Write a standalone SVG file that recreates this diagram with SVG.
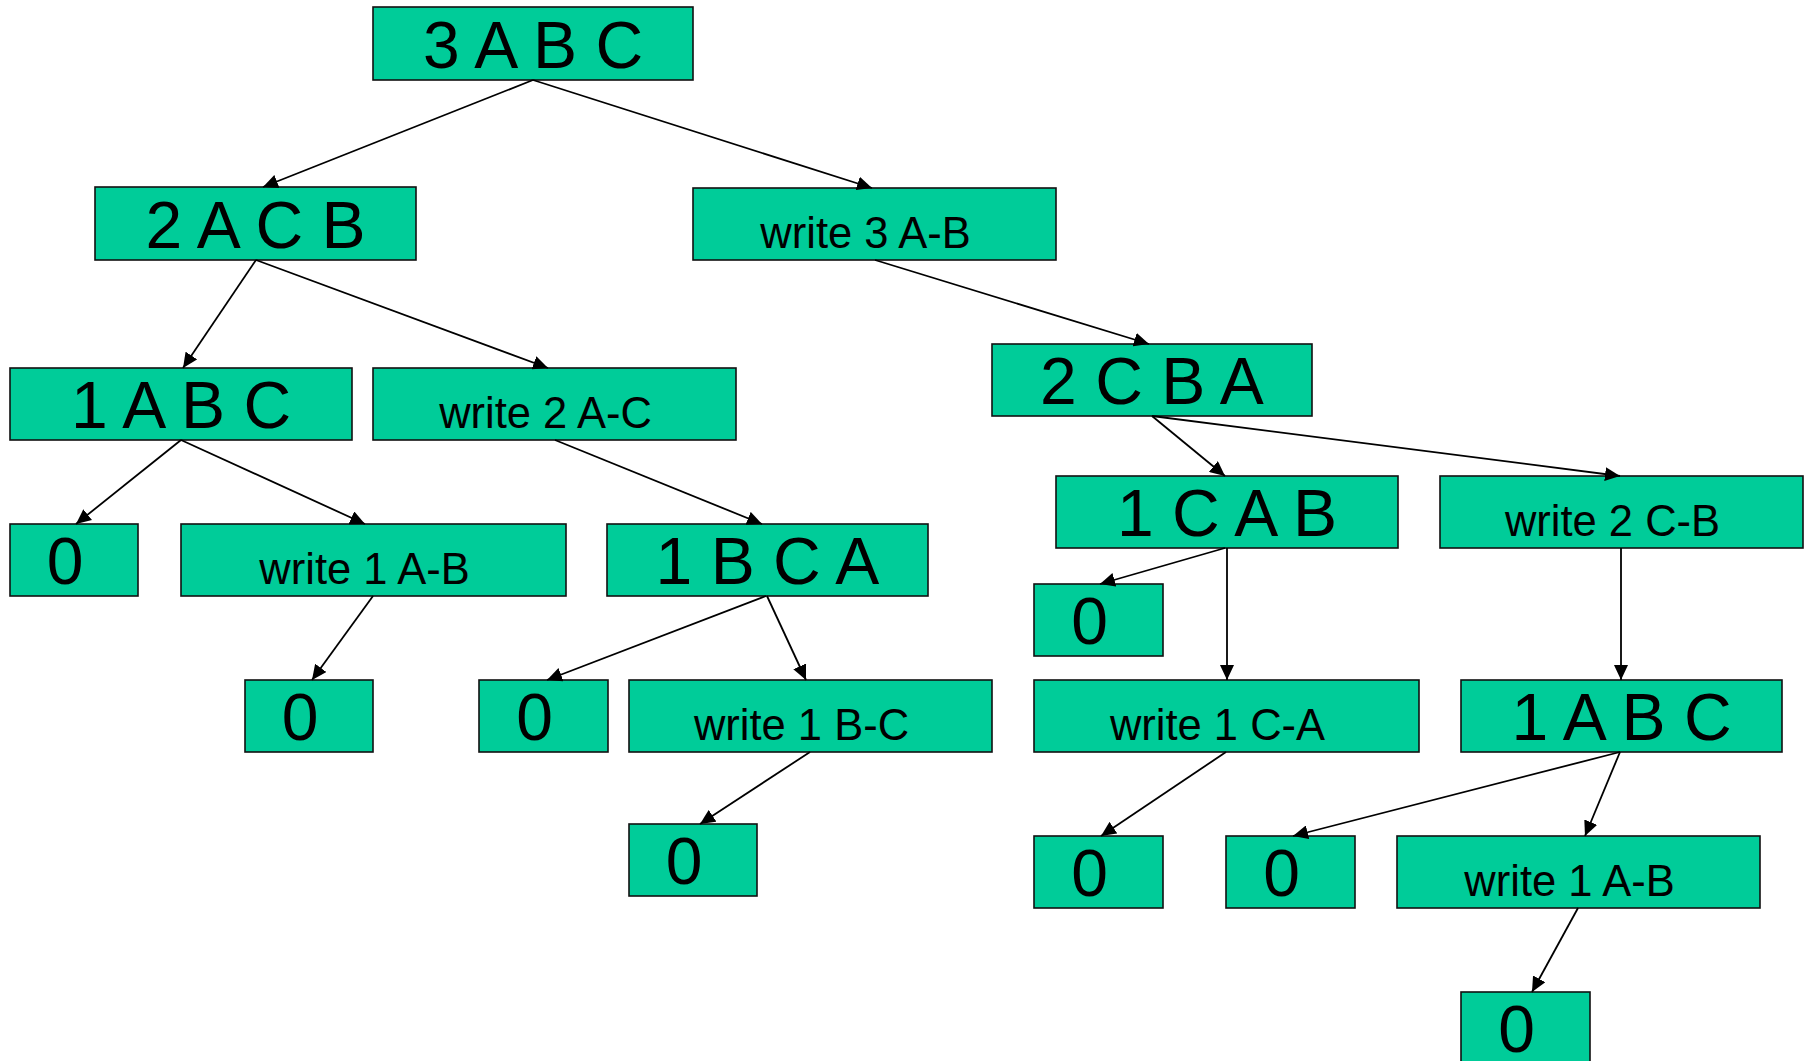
<svg xmlns="http://www.w3.org/2000/svg" width="1810" height="1061" viewBox="0 0 1810 1061">
  <style>
    .box { fill: #00CC99; stroke: #111; stroke-width: 1.6; }
    .big { font-family: "Liberation Sans", Arial, sans-serif; font-size: 66px; fill: #000; text-anchor: middle; }
    .small { font-family: "Liberation Sans", Arial, sans-serif; font-size: 43.5px; fill: #000; text-anchor: middle; }
    .edge { stroke: #000; stroke-width: 1.8; fill: none; marker-end: url(#arrow); }
  </style>
  <defs>
    <marker id="arrow" markerUnits="userSpaceOnUse" markerWidth="15" markerHeight="14" refX="15" refY="7" orient="auto">
      <path d="M0,0 L15,7 L0,14 z" fill="#000"/>
    </marker>
  </defs>
  <rect width="1810" height="1061" fill="#fff"/>

  <!-- tree nodes -->
  <g id="n_root"><rect class="box" x="373" y="7" width="320" height="73"/><text class="big" x="533" y="68">3 A B C</text></g>
  <g id="n_2acb"><rect class="box" x="95" y="187" width="321" height="73"/><text class="big" x="255.5" y="247.5">2 A C B</text></g>
  <g id="n_w3ab"><rect class="box" x="693" y="188" width="363" height="72"/><text class="small" x="865.5" y="248">write 3 A-B</text></g>
  <g id="n_1abc_l"><rect class="box" x="10" y="368" width="342" height="72"/><text class="big" x="181" y="427.5">1 A B C</text></g>
  <g id="n_w2ac"><rect class="box" x="373" y="368" width="363" height="72"/><text class="small" x="545.5" y="428">write 2 A-C</text></g>
  <g id="n_2cba"><rect class="box" x="992" y="344" width="320" height="72"/><text class="big" x="1152" y="403.5">2 C B A</text></g>
  <g id="n_0a"><rect class="box" x="10" y="524" width="128" height="72"/><text class="big" x="65" y="583.5">0</text></g>
  <g id="n_w1ab_l"><rect class="box" x="181" y="524" width="385" height="72"/><text class="small" x="364.5" y="584">write 1 A-B</text></g>
  <g id="n_1bca"><rect class="box" x="607" y="524" width="321" height="72"/><text class="big" x="767.5" y="583.5">1 B C A</text></g>
  <g id="n_1cab"><rect class="box" x="1056" y="476" width="342" height="72"/><text class="big" x="1227" y="535.5">1 C A B</text></g>
  <g id="n_w2cb"><rect class="box" x="1440" y="476" width="363" height="72"/><text class="small" x="1612.5" y="536">write 2 C-B</text></g>
  <g id="n_0b"><rect class="box" x="1034" y="584" width="129" height="72"/><text class="big" x="1089.5" y="643.5">0</text></g>
  <g id="n_0c"><rect class="box" x="245" y="680" width="128" height="72"/><text class="big" x="300" y="739.5">0</text></g>
  <g id="n_0d"><rect class="box" x="479" y="680" width="129" height="72"/><text class="big" x="534.5" y="739.5">0</text></g>
  <g id="n_w1bc"><rect class="box" x="629" y="680" width="363" height="72"/><text class="small" x="801.5" y="740">write 1 B-C</text></g>
  <g id="n_w1ca"><rect class="box" x="1034" y="680" width="385" height="72"/><text class="small" x="1217.5" y="740">write 1 C-A</text></g>
  <g id="n_1abc_r"><rect class="box" x="1461" y="680" width="321" height="72"/><text class="big" x="1621.5" y="739.5">1 A B C</text></g>
  <g id="n_0e"><rect class="box" x="629" y="824" width="128" height="72"/><text class="big" x="684" y="883.5">0</text></g>
  <g id="n_0f"><rect class="box" x="1034" y="836" width="129" height="72"/><text class="big" x="1089.5" y="895.5">0</text></g>
  <g id="n_0g"><rect class="box" x="1226" y="836" width="129" height="72"/><text class="big" x="1281.5" y="895.5">0</text></g>
  <g id="n_w1ab_r"><rect class="box" x="1397" y="836" width="363" height="72"/><text class="small" x="1569.5" y="896">write 1 A-B</text></g>
  <g id="n_0h"><rect class="box" x="1461" y="992" width="129" height="72"/><text class="big" x="1516.5" y="1051.5">0</text></g>

  <!-- connectors -->
  <g id="connectors">
    <line class="edge" x1="533" y1="80" x2="263" y2="187"/>
    <line class="edge" x1="533" y1="80" x2="872" y2="188"/>
    <line class="edge" x1="256" y1="260" x2="183" y2="368"/>
    <line class="edge" x1="256" y1="260" x2="548" y2="368"/>
    <line class="edge" x1="875" y1="260" x2="1149" y2="344"/>
    <line class="edge" x1="181" y1="440" x2="76" y2="524"/>
    <line class="edge" x1="181" y1="440" x2="365" y2="524"/>
    <line class="edge" x1="555" y1="440" x2="762" y2="524"/>
    <line class="edge" x1="1152" y1="416" x2="1225" y2="476"/>
    <line class="edge" x1="1152" y1="416" x2="1620" y2="476"/>
    <line class="edge" x1="373" y1="596" x2="312" y2="680"/>
    <line class="edge" x1="766" y1="596" x2="547" y2="680"/>
    <line class="edge" x1="767" y1="596" x2="806" y2="680"/>
    <line class="edge" x1="1225" y1="548" x2="1100" y2="584"/>
    <line class="edge" x1="1227" y1="548" x2="1227" y2="680"/>
    <line class="edge" x1="1621" y1="548" x2="1621" y2="680"/>
    <line class="edge" x1="810" y1="752" x2="700" y2="824"/>
    <line class="edge" x1="1226" y1="752" x2="1101" y2="836"/>
    <line class="edge" x1="1620" y1="752" x2="1293" y2="836"/>
    <line class="edge" x1="1620" y1="752" x2="1585" y2="836"/>
    <line class="edge" x1="1578" y1="908" x2="1532" y2="992"/>
  </g>
</svg>
